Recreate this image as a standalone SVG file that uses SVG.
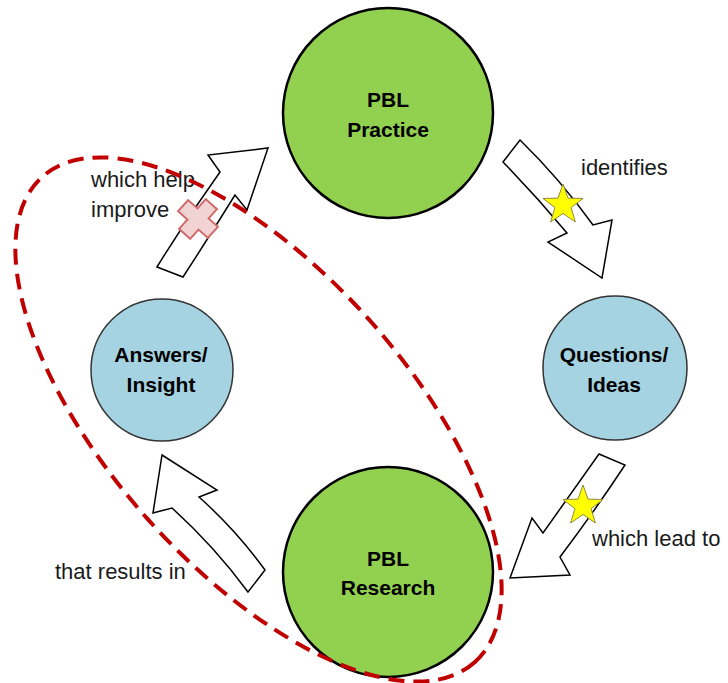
<svg xmlns="http://www.w3.org/2000/svg" width="728" height="683" viewBox="0 0 728 683">
<style>
.green{fill:#92D050;stroke:#000;stroke-width:2.5}
.blue{fill:#A6D3E1;stroke:#333;stroke-width:1.5}
.node{font-family:"Liberation Sans",Arial,sans-serif;font-weight:bold;font-size:21px;fill:#000;text-anchor:middle}
.lbl{font-family:"Liberation Sans",Arial,sans-serif;font-size:22px;fill:#1a1a1a}
.arrow{fill:#fff;stroke:#000;stroke-width:1.5;stroke-linejoin:miter}
.star{fill:#FFFF00;stroke:#8C8C3C;stroke-width:1}
</style>
<defs>
<path id="star" d="M0,-21 L5,-6.88 L19.97,-6.49 L8.08,2.63 L12.34,16.99 L0,8.5 L-12.34,16.99 L-8.08,2.63 L-19.97,-6.49 L-5,-6.88 Z"/>
</defs>
<g id="connectors">
<path class="arrow" d="M157,267 L183,277 Q209,237 235,195 L247,210 L268,148 L208,155 L220,172 Q187,218 157,267 Z"/>
<path class="arrow" d="M520,140 Q560,179 593,225 L612,220 L602,278 L548,242 L567,233 Q536,196 503,162 Z"/>
<path class="arrow" d="M599,454 L625,465 Q594,512 560,557 L570,575 L510,578 L532,518 L543,533 Q572,492 599,454 Z"/>
<path class="arrow" d="M162,455 L217,490 L199,497 Q236,530 265,570 L248,592 Q214,546 172,508 L153,513 Z"/>
<use href="#star" class="star" x="563" y="205"/>
<use href="#star" class="star" x="583" y="506"/>
<text class="lbl" x="91" y="187">which help</text>
<text class="lbl" x="91" y="217">improve</text>
<text class="lbl" x="581" y="175">identifies</text>
<text class="lbl" x="592" y="546">which lead to</text>
<text class="lbl" x="55" y="579">that results in</text>
</g>
<g id="node-practice">
<circle class="green" cx="388" cy="113" r="105"/>
<text class="node" x="388" y="107">PBL</text>
<text class="node" x="388" y="137">Practice</text>
</g>
<g id="node-questions">
<circle class="blue" cx="615" cy="368" r="72"/>
<text class="node" x="614" y="362">Questions/</text>
<text class="node" x="614" y="392">Ideas</text>
</g>
<g id="node-research">
<circle class="green" cx="388" cy="572" r="105"/>
<text class="node" x="388" y="566">PBL</text>
<text class="node" x="388" y="595">Research</text>
</g>
<g id="node-answers">
<circle class="blue" cx="162" cy="370" r="71"/>
<text class="node" x="161" y="362">Answers/</text>
<text class="node" x="161" y="392">Insight</text>
</g>
<g id="annotations">
<ellipse cx="258.5" cy="419.5" rx="325" ry="149" transform="rotate(48.3 258.5 419.5)" fill="none" stroke="#C00000" stroke-width="4" stroke-dasharray="16 9"/>
<polygon transform="translate(198 219) rotate(42)" points="-7.5,-20 7.5,-20 7.5,-7.5 20,-7.5 20,7.5 7.5,7.5 7.5,20 -7.5,20 -7.5,7.5 -20,7.5 -20,-7.5 -7.5,-7.5" fill="#F2D3D3" stroke="#CF6A6A" stroke-width="2"/>
</g>
</svg>
